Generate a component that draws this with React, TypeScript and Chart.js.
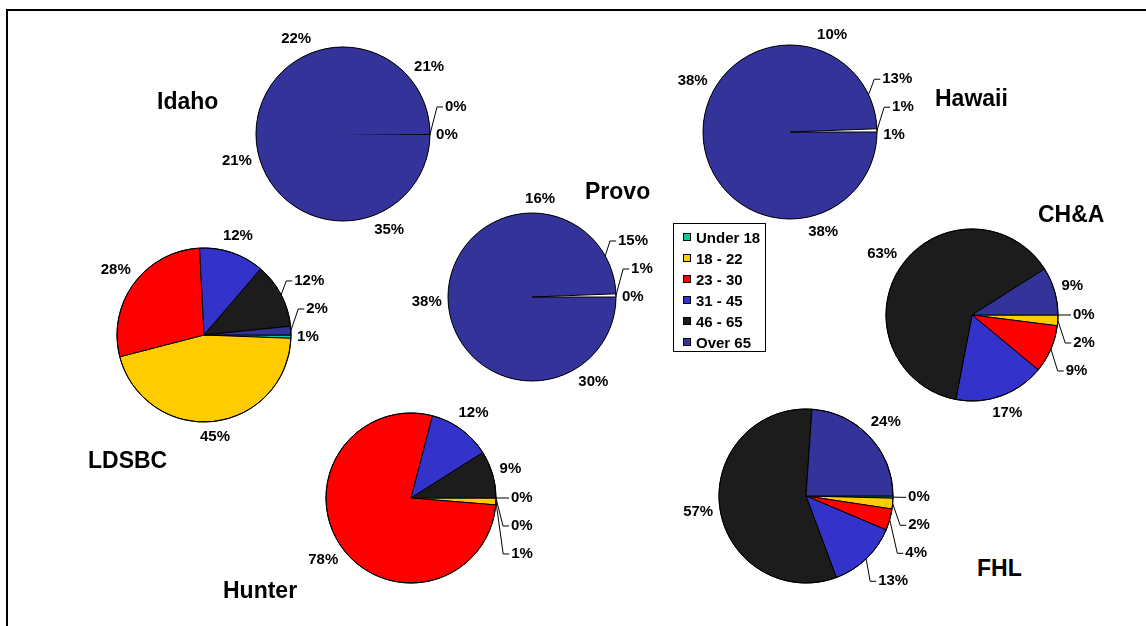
import React, { useEffect, useRef } from 'react';
import { Chart, registerables } from 'chart.js';

Chart.register(...registerables);

// ---------- data ----------
const AGE_GROUPS = ['Under 18', '18 - 22', '23 - 30', '31 - 45', '46 - 65', 'Over 65'];
const IDAHO_VALUES = [0.1, 0.1, 35, 21, 22, 21];
const HAWAII_VALUES = [1, 38, 38, 10, 13, 0.6];
const PROVO_VALUES = [0, 30, 38, 16, 15, 0.6];
const LDSBC_VALUES = [0.6, 45, 28, 12, 12, 1.6];
const CHA_VALUES = [0, 2, 9, 17, 63, 9];
const HUNTER_VALUES = [0, 1.3, 78, 12, 9, 0];
const FHL_VALUES = [0.4, 2, 4, 13, 57, 24];

// ---------- styles ----------
const AGE_COLORS = ['#00CC99', '#FFCC00', '#FF0000', '#3333CC', '#1C1C1C', '#333399'];
const MONO = '#333399';
const FULL_BORDERS = [1, 1, 1, 1, 1, 1];
const IDAHO_FILLS = [MONO, MONO, MONO, MONO, MONO, MONO];
const IDAHO_BORDERS = [1, 1, 0, 0, 0, 0];
const WHITE_TAIL_FILLS = [MONO, MONO, MONO, MONO, MONO, '#FFFFFF'];
const WHITE_TAIL_BORDERS = [0, 0, 0, 0, 0, 1];

const FONT = '"Liberation Sans", Arial, Helvetica, sans-serif';
const LABEL_FONT = `bold 15px ${FONT}`;
const TAU = Math.PI * 2;

type PieSpec = {
  title: string;
  values: number[];
  cx: number;
  cy: number;
  r: number;
  fills: string[];
  borders: number[];
  underlay: string | null;
  mode: 'up' | 'down';
  leaderAnchor: boolean;
  titleLeft: number;
  titleTop: number;
};

const PIES: PieSpec[] = [
  { title: 'Idaho', values: IDAHO_VALUES, cx: 343, cy: 134, r: 87, fills: IDAHO_FILLS, borders: IDAHO_BORDERS, underlay: MONO, mode: 'up', leaderAnchor: false, titleLeft: 157, titleTop: 90 },
  { title: 'Hawaii', values: HAWAII_VALUES, cx: 790, cy: 132, r: 87, fills: WHITE_TAIL_FILLS, borders: WHITE_TAIL_BORDERS, underlay: MONO, mode: 'up', leaderAnchor: false, titleLeft: 935, titleTop: 86.5 },
  { title: 'Provo', values: PROVO_VALUES, cx: 532, cy: 297, r: 84, fills: WHITE_TAIL_FILLS, borders: WHITE_TAIL_BORDERS, underlay: MONO, mode: 'up', leaderAnchor: false, titleLeft: 585, titleTop: 180 },
  { title: 'LDSBC', values: LDSBC_VALUES, cx: 204, cy: 335, r: 87, fills: AGE_COLORS, borders: FULL_BORDERS, underlay: null, mode: 'up', leaderAnchor: false, titleLeft: 88, titleTop: 449 },
  { title: 'CH&A', values: CHA_VALUES, cx: 972, cy: 315, r: 86, fills: AGE_COLORS, borders: FULL_BORDERS, underlay: null, mode: 'down', leaderAnchor: true, titleLeft: 1038, titleTop: 203 },
  { title: 'Hunter', values: HUNTER_VALUES, cx: 411, cy: 498, r: 85, fills: AGE_COLORS, borders: FULL_BORDERS, underlay: null, mode: 'down', leaderAnchor: true, titleLeft: 223, titleTop: 579 },
  { title: 'FHL', values: FHL_VALUES, cx: 806, cy: 496, r: 87, fills: AGE_COLORS, borders: FULL_BORDERS, underlay: null, mode: 'down', leaderAnchor: true, titleLeft: 977, titleTop: 557 },
];

// ---------- plugin: outline, underlay, labels with leader lines ----------
const pieLabelPlugin = {
  id: 'pieLabels',
  beforeDatasetsDraw(chart: any, _args: any, opts: any) {
    const arcs = chart.getDatasetMeta(0).data as any[];
    if (!arcs.length || !opts.underlay) return;
    const a = arcs[0];
    const ctx = chart.ctx;
    ctx.save();
    ctx.fillStyle = opts.underlay;
    ctx.beginPath();
    ctx.arc(a.x, a.y, a.outerRadius, 0, TAU);
    ctx.fill();
    ctx.restore();
  },
  afterDatasetsDraw(chart: any, _args: any, opts: any) {
    const ctx = chart.ctx as CanvasRenderingContext2D;
    const arcs = chart.getDatasetMeta(0).data as any[];
    if (!arcs.length) return;
    const values = chart.data.datasets[0].data as number[];
    const total = values.reduce((s, v) => s + v, 0);
    const cx = arcs[0].x, cy = arcs[0].y, r = arcs[0].outerRadius;
    ctx.save();
    ctx.strokeStyle = '#000';
    ctx.lineWidth = 1;
    ctx.beginPath();
    ctx.arc(cx, cy, r, 0, TAU);
    ctx.stroke();

    ctx.font = LABEL_FONT;
    const S = 28, GAP = 6, LGAP = 15, HH = 7.5;
    const items = arcs.map((arc: any, i: number) => {
      const raw = (arc.startAngle + arc.endAngle) / 2;
      const norm = raw >= Math.PI ? raw - TAU - 1e-6 : raw;
      const text = Math.round((values[i] / total) * 100) + '%';
      const hw = ctx.measureText(text).width / 2;
      const c = Math.cos(norm), s = Math.sin(norm);
      const d = r + GAP + hw * Math.abs(c) + HH * Math.abs(s);
      const y = cy + d * s;
      return { norm, c, s, text, hw, x: cx + d * c, y, y0: y };
    });
    const down = opts.mode === 'down';
    const order = [...items].sort((a, b) =>
      down ? (a.y - b.y) || (a.norm - b.norm) : (b.y - a.y) || (b.norm - a.norm));
    const placed: any[] = [];
    for (const it of order) {
      for (const p of placed) {
        if (Math.abs(it.x - p.x) < it.hw + p.hw + 4) {
          if (down && it.y < p.y + S) it.y = p.y + S;
          if (!down && it.y > p.y - S) it.y = p.y - S;
        }
      }
      placed.push(it);
    }

    ctx.fillStyle = '#000';
    ctx.textBaseline = 'middle';
    ctx.textAlign = 'center';
    for (const it of items) {
      const pushed = Math.abs(it.y - it.y0) > 0.5;
      const anchor = opts.leaderAnchor && Math.abs(it.norm) < 0.12;
      if (pushed || anchor) {
        const side = it.c >= 0 ? 1 : -1;
        const d = r + LGAP + it.hw * Math.abs(it.c) + HH * Math.abs(it.s);
        let x = cx + d * it.c;
        let edge = x - side * it.hw;
        const sx = cx + r * it.c, sy = cy + r * it.s;
        const bendX = side > 0 ? Math.max(edge - 8, sx + 4) : Math.min(edge + 8, sx - 4);
        edge = side > 0 ? Math.max(edge, bendX + 8) : Math.min(edge, bendX - 8);
        x = edge + side * it.hw;
        ctx.beginPath();
        ctx.moveTo(sx, sy);
        ctx.lineTo(bendX, it.y);
        ctx.lineTo(edge - side * 2, it.y);
        ctx.stroke();
        ctx.fillText(it.text, x, it.y);
      } else {
        ctx.fillText(it.text, it.x, it.y);
      }
    }
    ctx.restore();
  },
};

const CW = 320;
const CH = 270;

function PieCanvas({ spec }: { spec: PieSpec }) {
  const ref = useRef<HTMLCanvasElement>(null);
  useEffect(() => {
    const side = 2 * spec.r + 1;
    const padX = (CW - side) / 2;
    const padY = (CH - side) / 2;
    const chart = new Chart(ref.current as HTMLCanvasElement, {
      type: 'pie',
      data: {
        labels: AGE_GROUPS,
        datasets: [
          {
            data: spec.values,
            backgroundColor: spec.fills,
            borderColor: '#000000',
            borderWidth: spec.borders,
            borderAlign: 'center',
          },
        ],
      },
      options: {
        responsive: false,
        animation: false,
        rotation: 90,
        events: [],
        layout: { padding: { left: padX, right: padX, top: padY, bottom: padY } },
        plugins: {
          legend: { display: false },
          tooltip: { enabled: false },
          pieLabels: { mode: spec.mode, leaderAnchor: spec.leaderAnchor, underlay: spec.underlay },
        } as any,
      },
      plugins: [pieLabelPlugin as any],
    } as any);
    return () => chart.destroy();
  }, [spec]);
  return (
    <canvas
      ref={ref}
      width={CW}
      height={CH}
      style={{ position: 'absolute', left: spec.cx - CW / 2, top: spec.cy - CH / 2, width: CW, height: CH }}
    />
  );
}

export default function App() {
  return (
    <div
      style={{
        position: 'absolute',
        left: 0,
        top: 0,
        width: 1146,
        height: 626,
        overflow: 'hidden',
        background: '#ffffff',
        fontFamily: FONT,
      }}
    >
      <div
        style={{
          position: 'absolute',
          left: 6,
          top: 9,
          width: 1300,
          height: 800,
          borderLeft: '2px solid #000',
          borderTop: '2px solid #000',
        }}
      />
      {PIES.map((p) => (
        <PieCanvas key={p.title} spec={p} />
      ))}
      {PIES.map((p) => (
        <div
          key={'t-' + p.title}
          style={{
            position: 'absolute',
            left: p.titleLeft,
            top: p.titleTop,
            font: `bold 23px ${FONT}`,
            lineHeight: '23px',
            whiteSpace: 'nowrap',
            color: '#000',
          }}
        >
          {p.title}
        </div>
      ))}
      <div
        style={{
          position: 'absolute',
          left: 673,
          top: 223,
          width: 91,
          height: 127,
          border: '1px solid #000',
          background: '#fff',
        }}
      />
      {AGE_GROUPS.map((g, i) => (
        <React.Fragment key={g}>
          <div
            style={{
              position: 'absolute',
              left: 683,
              top: 233 + 20.9 * i,
              width: 8,
              height: 8,
              boxSizing: 'border-box',
              border: '1px solid #000',
              background: AGE_COLORS[i],
            }}
          />
          <div
            style={{
              position: 'absolute',
              left: 696,
              top: 227 + 20.9 * i,
              font: `bold 15px ${FONT}`,
              lineHeight: '21px',
              whiteSpace: 'nowrap',
              color: '#000',
            }}
          >
            {g}
          </div>
        </React.Fragment>
      ))}
    </div>
  );
}
